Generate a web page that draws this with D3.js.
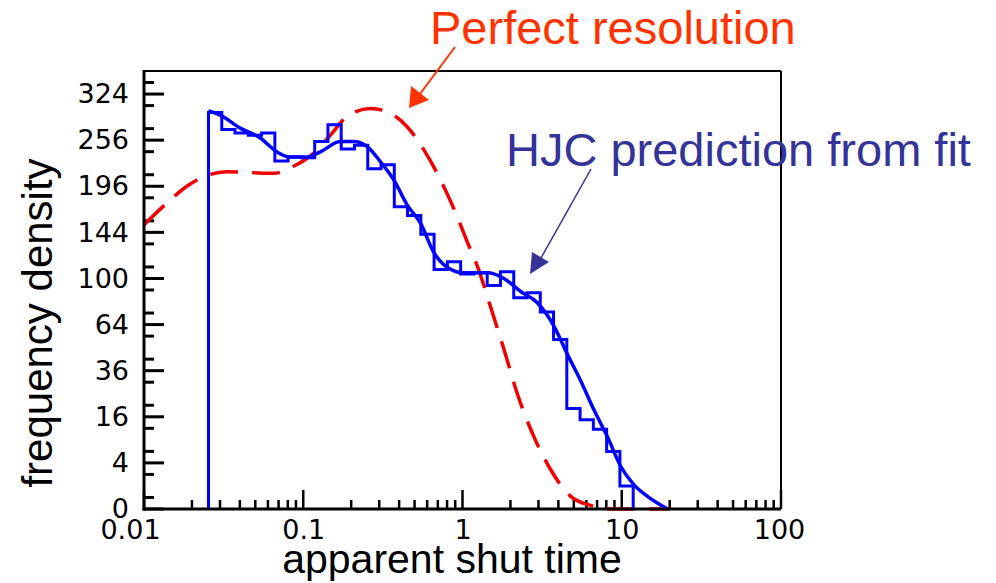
<!DOCTYPE html>
<html>
<head>
<meta charset="utf-8">
<script src="https://cdn.jsdelivr.net/npm/d3@7"></script>
<style>
  html, body { margin: 0; padding: 0; background: #fff; }
  svg { display: block; }
</style>
</head>
<body>
<svg id="chart" width="996" height="583"></svg>
<script>
// ---- data ----
// histogram bin edges (log-spaced bins); last entry is the upper edge of the last bin
const binEdges = [0.02541, 0.03079, 0.03730, 0.04519, 0.05475, 0.06633, 0.08036, 0.09736,
  0.1180, 0.1429, 0.1731, 0.2098, 0.2541, 0.3079, 0.3730, 0.4519, 0.5475, 0.6633,
  0.8036, 0.9736, 1.180, 1.429, 1.731, 2.098, 2.541, 3.079, 3.730, 4.519, 5.475,
  6.633, 8.036, 9.736, 11.80];
const binValues = [296, 271, 266, 263, 266, 228, 233, 232, 254, 278, 244, 249, 218, 223,
  172, 162, 142, 108, 115, 104, 105, 94, 106, 84, 88, 73, 54, 19, 15, 12, 6.2, 1.0];

// HJC prediction from fit (solid blue)
const hjcX = [0.0254, 0.0301, 0.0402, 0.0537, 0.0683, 0.0828, 0.1055, 0.128, 0.171, 0.207,
  0.252, 0.305, 0.370, 0.449, 0.544, 0.660, 0.801, 1.02, 1.43, 1.82, 2.32, 2.95, 3.75,
  4.56, 5.52, 6.70, 8.13, 9.86, 11.95, 14.5, 19.4];
const hjcY = [298, 292, 273, 259, 240, 233, 233, 240, 254, 254, 247, 227, 204, 174, 154,
  124, 110, 105, 105, 100, 89, 80, 63, 45, 31, 18.4, 9.8, 3.4, 1.1, 0.3, 0];

// Perfect resolution (dashed red)
const perfX = [0.01, 0.0139, 0.0186, 0.0254, 0.0331, 0.0464, 0.065, 0.0869, 0.116, 0.148,
  0.188, 0.264, 0.336, 0.449, 0.571, 0.727, 0.926, 1.06, 1.24, 1.50, 1.82, 2.21, 2.81,
  3.58, 4.78, 6.70, 7.3, 10, 15, 20];
const perfY = [152, 176, 196, 210, 214, 213, 212, 221, 238, 263, 290, 302, 297, 275, 243,
  204, 161, 136, 111, 77, 48, 25, 9.8, 2.9, 0.3, 0.01, 0, 0, 0, 0];

// axis ticks
const xTickValues = [0.01, 0.1, 1, 10, 100];
const xTickLabels = ["0.01", "0.1", "1", "10", "100"];
const xMinorMult = [2, 3, 4, 5, 6, 7, 8, 9];
const yTickValues = [0, 4, 16, 36, 64, 100, 144, 196, 256, 324];
const yMinorRoots = [0.5, 1.5, 2.5, 3.5, 4.5, 5.5, 6.5, 7.5, 8.5, 9.5, 10.5, 11.5, 12.5,
  13.5, 14.5, 15.5, 16.5, 17.5, 18.5];
const xDomain = [0.01, 100];
const yDomain = [0, 361];

// ---- drawing ----
const svg = d3.select("#chart");
svg.append("rect").attr("width", 996).attr("height", 583).attr("fill", "#fff");

const L = 144, R = 781, T = 71, B = 509;
const x = d3.scaleLog().domain(xDomain).range([L, R]);
const y = d3.scaleSqrt().domain(yDomain).range([B, T]);

const xMinor = [];
[0.01, 0.1, 1, 10].forEach(d => xMinorMult.forEach(k => xMinor.push(d * k)));
const yMinor = yMinorRoots.map(r => r * r);

const tickFont = "'DejaVu Sans', sans-serif";
const gTicks = svg.append("g").attr("stroke", "#000");

// x ticks (inward, pointing up)
gTicks.selectAll("line.xminor").data(xMinor).join("line").attr("class", "xminor")
  .attr("x1", d => x(d)).attr("x2", d => x(d))
  .attr("y1", B).attr("y2", B - 9).attr("stroke-width", 2.5);
gTicks.selectAll("line.xmajor").data(xTickValues).join("line").attr("class", "xmajor")
  .attr("x1", d => x(d)).attr("x2", d => x(d))
  .attr("y1", B).attr("y2", B - 19).attr("stroke-width", 2.5);

// y ticks (inward, pointing right)
gTicks.selectAll("line.yminor").data(yMinor).join("line").attr("class", "yminor")
  .attr("x1", L).attr("x2", L + 10)
  .attr("y1", d => y(d)).attr("y2", d => y(d)).attr("stroke-width", 3);
gTicks.selectAll("line.ymajor").data(yTickValues).join("line").attr("class", "ymajor")
  .attr("x1", L).attr("x2", L + 20)
  .attr("y1", d => y(d)).attr("y2", d => y(d)).attr("stroke-width", 3);

// x labels via axis
svg.append("g").attr("transform", `translate(0,${B})`)
  .call(d3.axisBottom(x).tickValues(xTickValues).tickSize(0).tickPadding(11)
    .tickFormat((d, i) => xTickLabels[i]))
  .call(g => g.select(".domain").remove())
  .call(g => g.selectAll(".tick line").remove())
  .call(g => g.selectAll("text").attr("font-family", tickFont).attr("font-size", 27)
    .attr("fill", "#000").attr("dx", (d, i) => i === 0 ? -14 : (i === 4 ? -2 : 0)));

// y labels via axis
svg.append("g").attr("transform", `translate(${L},0)`)
  .call(d3.axisLeft(y).tickValues(yTickValues).tickSize(0).tickPadding(15)
    .tickFormat(d3.format("d")))
  .call(g => g.select(".domain").remove())
  .call(g => g.selectAll(".tick line").remove())
  .call(g => g.selectAll("text").attr("font-family", tickFont).attr("font-size", 27)
    .attr("fill", "#000"));

// frame top/right
svg.append("line").attr("x1", L).attr("x2", R).attr("y1", T).attr("y2", T)
  .attr("stroke", "#000").attr("stroke-width", 2);
svg.append("line").attr("x1", R).attr("x2", R).attr("y1", T).attr("y2", B)
  .attr("stroke", "#000").attr("stroke-width", 2);

// perfect resolution dashed red
const perfData = perfX.map((d, i) => [d, perfY[i]]);
svg.append("path")
  .datum(perfData)
  .attr("fill", "none")
  .attr("stroke", "#f00000")
  .attr("stroke-width", 3.5)
  .attr("stroke-dasharray", "28,14")
  .attr("d", d3.line().x(d => x(d[0])).y(d => y(d[1])).curve(d3.curveMonotoneX));

// histogram step outline
const stepPts = [[binEdges[0], 0]];
binValues.forEach((v, i) => {
  stepPts.push([binEdges[i], v]);
  stepPts.push([binEdges[i + 1], v]);
});
stepPts.push([binEdges[binEdges.length - 1], 0]);
svg.append("path")
  .datum(stepPts)
  .attr("fill", "none")
  .attr("stroke", "#0000ff")
  .attr("stroke-width", 3)
  .attr("stroke-linejoin", "miter")
  .attr("d", d3.line().x(d => x(d[0])).y(d => y(d[1])));

// HJC fitted curve
const hjcData = hjcX.map((d, i) => [d, hjcY[i]]);
svg.append("path")
  .datum(hjcData)
  .attr("fill", "none")
  .attr("stroke", "#0000ff")
  .attr("stroke-width", 3.5)
  .attr("d", d3.line().x(d => x(d[0])).y(d => y(d[1])).curve(d3.curveMonotoneX));

// bottom and left axis lines on top
svg.append("line").attr("x1", L - 1.5).attr("x2", R).attr("y1", B).attr("y2", B)
  .attr("stroke", "#000").attr("stroke-width", 3);
svg.append("line").attr("x1", L).attr("x2", L).attr("y1", T - 1).attr("y2", B + 1.5)
  .attr("stroke", "#000").attr("stroke-width", 3);

// axis titles
const titleFont = "'Liberation Sans', Arial, sans-serif";
svg.append("text")
  .attr("x", 452).attr("y", 573)
  .attr("text-anchor", "middle")
  .attr("font-family", titleFont).attr("font-size", 41).attr("fill", "#000")
  .text("apparent shut time");
svg.append("text")
  .attr("transform", "translate(52,323) rotate(-90)")
  .attr("text-anchor", "middle")
  .attr("font-family", titleFont).attr("font-size", 42).attr("fill", "#000")
  .text("frequency density");

// annotations
const redC = "#ff3300", blueC = "#333399";
svg.append("text")
  .attr("x", 430).attr("y", 44)
  .attr("font-family", titleFont).attr("font-size", 47).attr("fill", redC)
  .text("Perfect resolution");
svg.append("line").attr("x1", 455).attr("y1", 47).attr("x2", 420).attr("y2", 94)
  .attr("stroke", redC).attr("stroke-width", 2);
svg.append("path").attr("d", "M409,108 L411,86 L429,100 Z").attr("fill", redC);

svg.append("text")
  .attr("x", 506).attr("y", 166)
  .attr("font-family", titleFont).attr("font-size", 47).attr("fill", blueC)
  .text("HJC prediction from fit");
svg.append("line").attr("x1", 591).attr("y1", 169).attr("x2", 541).attr("y2", 258)
  .attr("stroke", blueC).attr("stroke-width", 1.5);
svg.append("path").attr("d", "M530,274 L532,252 L549,262 Z").attr("fill", blueC);
</script>
</body>
</html>
